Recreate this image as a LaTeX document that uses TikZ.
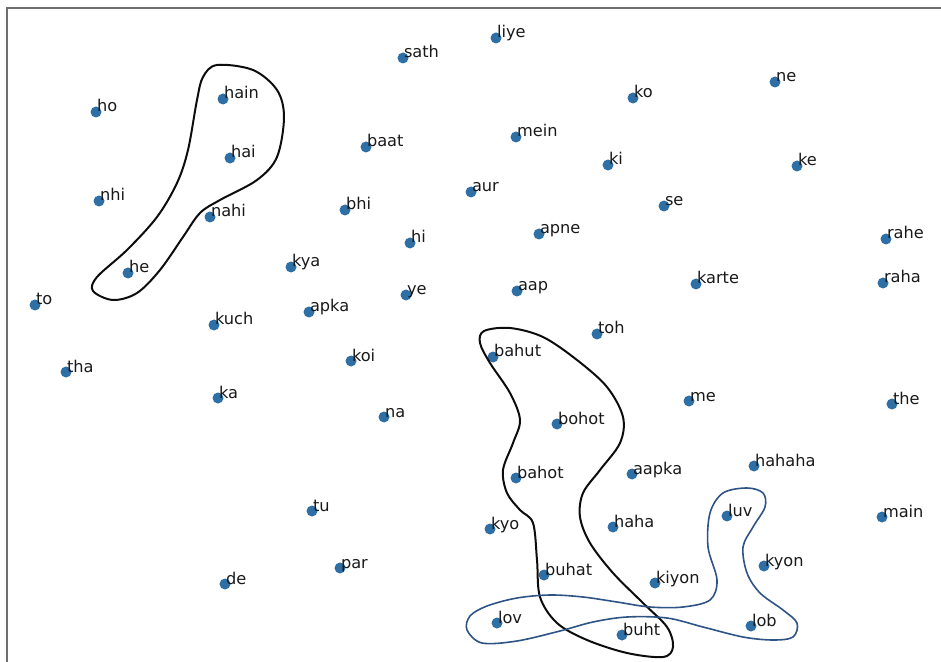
\documentclass[tikz,border=0pt]{standalone}
\usepackage{fontspec}
\setmainfont{DejaVu Sans}
\newlength{\du}
\setlength{\du}{0.5pt}
\tikzset{
  wdot/.style={circle,fill=dotcolor,draw=none,minimum size=11\du,inner sep=0pt},
  wlabel/.style={anchor=base west,inner sep=0pt,font=\fontsize{8.1}{10}\selectfont,text=black!90},
}
\definecolor{dotcolor}{rgb}{0.180000, 0.435000, 0.650000}

\begin{document}
\begin{tikzpicture}
\pgftransformxscale{1.000000}
\pgftransformyscale{-1.000000}
\useasboundingbox (0\du,0\du) rectangle (941\du,662\du);
% frame, only top and left show
\pgfsetlinewidth{2.000000\du}
\definecolor{dialinecolor}{rgb}{0.430000, 0.430000, 0.430000}
\pgfsetstrokecolor{dialinecolor}
\draw (7\du,662\du)--(7\du,8\du)--(941\du,8\du);
% words
\node[wdot] (sath) at (403\du,58\du){};
\node[wlabel] at (sath.center){sath};
\node[wdot] (liye) at (496\du,38\du){};
\node[wlabel] at (liye.center){liye};
\node[wdot] (hain) at (223\du,99\du){};
\node[wlabel] at (hain.center){hain};
\node[wdot] (ho) at (96\du,112\du){};
\node[wlabel] at (ho.center){ho};
\node[wdot] (ko) at (633\du,98\du){};
\node[wlabel] at (ko.center){ko};
\node[wdot] (ne) at (775\du,82\du){};
\node[wlabel] at (ne.center){ne};
\node[wdot] (baat) at (366\du,147\du){};
\node[wlabel] at (baat.center){baat};
\node[wdot] (mein) at (516\du,137\du){};
\node[wlabel] at (mein.center){mein};
\node[wdot] (hai) at (230\du,158\du){};
\node[wlabel] at (hai.center){hai};
\node[wdot] (ki) at (608\du,165\du){};
\node[wlabel] at (ki.center){ki};
\node[wdot] (ke) at (797\du,166\du){};
\node[wlabel] at (ke.center){ke};
\node[wdot] (aur) at (471\du,192\du){};
\node[wlabel] at (aur.center){aur};
\node[wdot] (nhi) at (99\du,201\du){};
\node[wlabel] at (nhi.center){nhi};
\node[wdot] (bhi) at (345\du,210\du){};
\node[wlabel] at (bhi.center){bhi};
\node[wdot] (se) at (664\du,206\du){};
\node[wlabel] at (se.center){se};
\node[wdot] (nahi) at (210\du,217\du){};
\node[wlabel] at (nahi.center){nahi};
\node[wdot] (apne) at (539\du,234\du){};
\node[wlabel] at (apne.center){apne};
\node[wdot] (hi) at (410\du,243\du){};
\node[wlabel] at (hi.center){hi};
\node[wdot] (rahe) at (886\du,239\du){};
\node[wlabel] at (rahe.center){rahe};
\node[wdot] (kya) at (291\du,267\du){};
\node[wlabel] at (kya.center){kya};
\node[wdot] (he) at (128\du,273\du){};
\node[wlabel] at (he.center){he};
\node[wdot] (karte) at (696\du,284\du){};
\node[wlabel] at (karte.center){karte};
\node[wdot] (raha) at (883\du,283\du){};
\node[wlabel] at (raha.center){raha};
\node[wdot] (aap) at (517\du,291\du){};
\node[wlabel] at (aap.center){aap};
\node[wdot] (ye) at (406\du,295\du){};
\node[wlabel] at (ye.center){ye};
\node[wdot] (to) at (35\du,305\du){};
\node[wlabel] at (to.center){to};
\node[wdot] (apka) at (309\du,312\du){};
\node[wlabel] at (apka.center){apka};
\node[wdot] (kuch) at (214\du,325\du){};
\node[wlabel] at (kuch.center){kuch};
\node[wdot] (toh) at (597\du,334\du){};
\node[wlabel] at (toh.center){toh};
\node[wdot] (bahut) at (493\du,357\du){};
\node[wlabel] at (bahut.center){bahut};
\node[wdot] (koi) at (351\du,361\du){};
\node[wlabel] at (koi.center){koi};
\node[wdot] (tha) at (66\du,372\du){};
\node[wlabel] at (tha.center){tha};
\node[wdot] (ka) at (218\du,398\du){};
\node[wlabel] at (ka.center){ka};
\node[wdot] (me) at (689\du,401\du){};
\node[wlabel] at (me.center){me};
\node[wdot] (the) at (892\du,404\du){};
\node[wlabel] at (the.center){the};
\node[wdot] (na) at (384\du,417\du){};
\node[wlabel] at (na.center){na};
\node[wdot] (bohot) at (557\du,424\du){};
\node[wlabel] at (bohot.center){bohot};
\node[wdot] (hahaha) at (754\du,466\du){};
\node[wlabel] at (hahaha.center){hahaha};
\node[wdot] (aapka) at (632\du,474\du){};
\node[wlabel] at (aapka.center){aapka};
\node[wdot] (bahot) at (516\du,478\du){};
\node[wlabel] at (bahot.center){bahot};
\node[wdot] (tu) at (312\du,511\du){};
\node[wlabel] at (tu.center){tu};
\node[wdot] (luv) at (727\du,516\du){};
\node[wlabel] at (luv.center){luv};
\node[wdot] (main) at (882\du,517\du){};
\node[wlabel] at (main.center){main};
\node[wdot] (kyo) at (490\du,529\du){};
\node[wlabel] at (kyo.center){kyo};
\node[wdot] (haha) at (613\du,527\du){};
\node[wlabel] at (haha.center){haha};
\node[wdot] (kyon) at (764\du,566\du){};
\node[wlabel] at (kyon.center){kyon};
\node[wdot] (par) at (340\du,568\du){};
\node[wlabel] at (par.center){par};
\node[wdot] (buhat) at (544\du,575\du){};
\node[wlabel] at (buhat.center){buhat};
\node[wdot] (kiyon) at (655\du,583\du){};
\node[wlabel] at (kiyon.center){kiyon};
\node[wdot] (de) at (225\du,584\du){};
\node[wlabel] at (de.center){de};
\node[wdot] (lov) at (497\du,623\du){};
\node[wlabel] at (lov.center){lov};
\node[wdot] (lob) at (751\du,626\du){};
\node[wlabel] at (lob.center){lob};
\node[wdot] (buht) at (622\du,635\du){};
\node[wlabel] at (buht.center){buht};
% hand drawn loops
\pgfsetlinewidth{2.000000\du}
\definecolor{dialinecolor}{rgb}{0.050000, 0.050000, 0.050000}
\pgfsetstrokecolor{dialinecolor}
\draw plot[smooth cycle,tension=0.55] coordinates {
  (217\du,65\du) (203\du,77\du) (197\du,100\du) (188\du,150\du) (177\du,183\du)
  (157\du,217\du) (127\du,250\du) (97\du,277\du) (93\du,291\du) (113\du,300\du)
  (137\du,293\du) (160\du,270\du) (183\du,237\du) (200\du,213\du) (220\du,200\du)
  (257\du,180\du) (277\du,157\du) (284\du,117\du) (277\du,90\du) (253\du,70\du)};
\draw plot[smooth cycle,tension=0.55] coordinates {
  (484\du,331\du) (510\du,328\du) (543\du,337\du) (577\du,360\du) (607\du,387\du)
  (623\du,417\du) (620\du,443\du) (600\du,470\du) (583\du,493\du) (580\du,517\du)
  (590\du,543\du) (613\du,573\du) (643\du,603\du) (667\du,627\du) (673\du,647\du)
  (663\du,657\du) (627\du,653\du) (587\du,640\du) (557\du,623\du) (540\du,597\du)
  (537\du,560\du) (533\du,523\du) (520\du,510\du) (507\du,493\du) (503\du,470\du)
  (513\du,443\du) (520\du,420\du) (510\du,393\du) (490\du,363\du) (480\du,343\du)};
\pgfsetlinewidth{1.600000\du}
\definecolor{dialinecolor}{rgb}{0.180000, 0.330000, 0.520000}
\pgfsetstrokecolor{dialinecolor}
\draw plot[smooth cycle,tension=0.55] coordinates {
  (467\du,630\du) (482\du,643\du) (517\du,641\du) (560\du,631\du) (593\du,622\du)
  (627\du,617\du) (667\du,618\du) (703\du,627\du) (743\du,637\du) (773\du,640\du)
  (793\du,637\du) (797\du,623\du) (783\du,610\du) (760\du,593\du) (747\du,573\du)
  (743\du,547\du) (753\du,527\du) (765\du,507\du) (763\du,493\du) (747\du,488\du)
  (723\du,493\du) (710\du,513\du) (708\du,547\du) (717\du,580\du) (710\du,600\du)
  (683\du,607\du) (650\du,607\du) (617\du,602\du) (583\du,597\du) (550\du,595\du)
  (517\du,598\du) (487\du,606\du) (470\du,616\du)};
\end{tikzpicture}
\end{document}
